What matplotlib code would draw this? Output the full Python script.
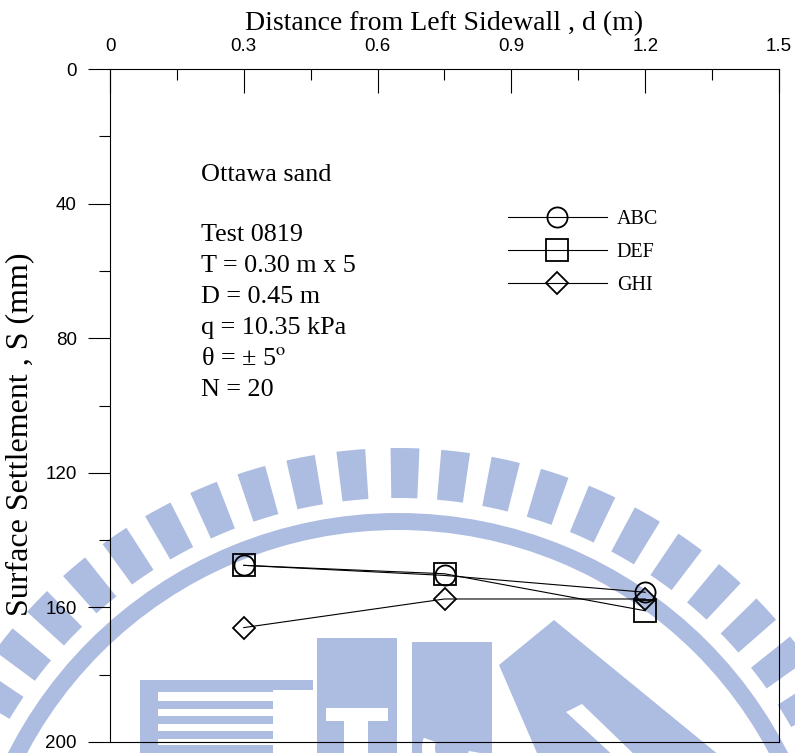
import matplotlib
matplotlib.use("Agg")
import matplotlib.pyplot as plt
from matplotlib.patches import Wedge, Rectangle, Polygon
from matplotlib.ticker import MultipleLocator
import numpy as np

# Measured settlements along the wall
distance = [0.30, 0.75, 1.20]
settle_abc = [147.5, 150.5, 155.5]
settle_def = [147.5, 150.0, 161.0]
settle_ghi = [166.0, 157.5, 157.5]
series_labels = ["ABC", "DEF", "GHI"]
x_ticks = [0, 0.3, 0.6, 0.9, 1.2, 1.5]
y_ticks = [0, 40, 80, 120, 160, 200]

notes = ["Test 0819", "T = 0.30 m x 5", "D = 0.45 m", "q = 10.35 kPa",
         "θ = ± 5$^{\\mathrm{o}}$", "N = 20"]

W, H = 795, 753
plt.rcParams["mathtext.fontset"] = "stix"
serif = ["Liberation Serif", "DejaVu Serif"]
sans = ["Liberation Sans", "DejaVu Sans"]

fig = plt.figure(figsize=(W / 100, H / 100), dpi=100)

# Background emblem layer (pixel coordinates, origin top-left)
bg = fig.add_axes([0, 0, 1, 1], zorder=0)
bg.set_xlim(0, W)
bg.set_ylim(H, 0)
bg.axis("off")
wm = "#adbce1"
cx, cy = 398, 950
for a in np.arange(-89.2, 270, 5.8):
    bg.add_patch(Wedge((cx, cy), 502, a - 1.65, a + 1.65, width=50, color=wm, lw=0))
bg.add_patch(Wedge((cx, cy), 437, 0, 360, width=17, color=wm, lw=0))
# E-shaped block
bg.add_patch(Rectangle((140, 680), 173, 10, color=wm, lw=0))
bg.add_patch(Rectangle((140, 690), 133, 70, color=wm, lw=0))
for yy, hh in [(692, 9), (709, 7), (724, 7), (739, 6)]:
    bg.add_patch(Rectangle((158, yy), 115, hh, color="white", lw=0))
# T and S blocks
bg.add_patch(Rectangle((317, 638), 80, 120, color=wm, lw=0))
bg.add_patch(Rectangle((412, 642), 80, 120, color=wm, lw=0))
bg.add_patch(Rectangle((326, 708), 62, 13, color="white", lw=0))
bg.add_patch(Rectangle((344, 708), 24, 50, color="white", lw=0))
bg.add_patch(Wedge((452, 748), 30, 10, 200, width=13, color="white", lw=0))
# A-shaped block
bg.add_patch(Polygon([(499, 665), (554, 620), (725, 760), (540, 760)],
                     closed=True, color=wm, lw=0))
bg.add_patch(Polygon([(566, 712), (582, 704), (640, 760), (618, 760)],
                     closed=True, color="white", lw=0))

ax = fig.add_axes([110 / W, 11 / H, 669 / W, 673 / H], zorder=1)
ax.patch.set_alpha(0)

line_kw = dict(color="black", lw=0.8, mfc="none", mec="black", mew=1.3)
ax.plot(distance, settle_abc, marker="o", ms=14.5, label=series_labels[0], **line_kw)
ax.plot(distance, settle_def, marker="s", ms=15.5, label=series_labels[1], **line_kw)
ax.plot(distance, settle_ghi, marker="D", ms=11, label=series_labels[2], **line_kw)

ax.set_xlim(0, 1.5)
ax.set_ylim(200, 0)
ax.xaxis.tick_top()
ax.xaxis.set_label_position("top")
ax.set_xticks(x_ticks)
ax.set_xticklabels(["0", "0.3", "0.6", "0.9", "1.2", "1.5"])
ax.set_yticks(y_ticks)
ax.xaxis.set_minor_locator(MultipleLocator(0.15))
ax.yaxis.set_minor_locator(MultipleLocator(20))
ax.tick_params(axis="x", which="major", direction="in", length=17, width=0.8, pad=10,
               labelsize=13.5)
ax.tick_params(axis="x", which="minor", direction="in", length=8, width=0.8)
ax.tick_params(axis="y", which="major", direction="out", length=16, width=0.8, pad=8,
               labelsize=13.5)
ax.tick_params(axis="y", which="minor", direction="out", length=8, width=0.8)
for lab in ax.get_xticklabels() + ax.get_yticklabels():
    lab.set_family(sans)
for s in ax.spines.values():
    s.set_linewidth(0.8)

ax.set_xlabel("Distance from Left Sidewall , d (m)", family=serif, fontsize=20, labelpad=6)
ax.set_ylabel("Surface Settlement , S (mm)", family=serif, fontsize=23)
ax.yaxis.set_label_coords(-0.1135, 0.458)

ax.text(0.136, 0.843, "Ottawa sand", transform=ax.transAxes, family=serif,
        fontsize=18.8, va="center", ha="left")
for i, t in enumerate(notes):
    ax.text(0.136, 0.754 - i * 0.0462, t, transform=ax.transAxes, family=serif,
            fontsize=18.8, va="center", ha="left")

leg = ax.legend(loc="upper left", bbox_to_anchor=(0.58, 0.805), frameon=False,
                prop={"family": serif, "size": 14.5}, handlelength=4.9,
                handletextpad=0.5, labelspacing=0.68, borderpad=0)

fig.savefig("out.png", dpi=100)
